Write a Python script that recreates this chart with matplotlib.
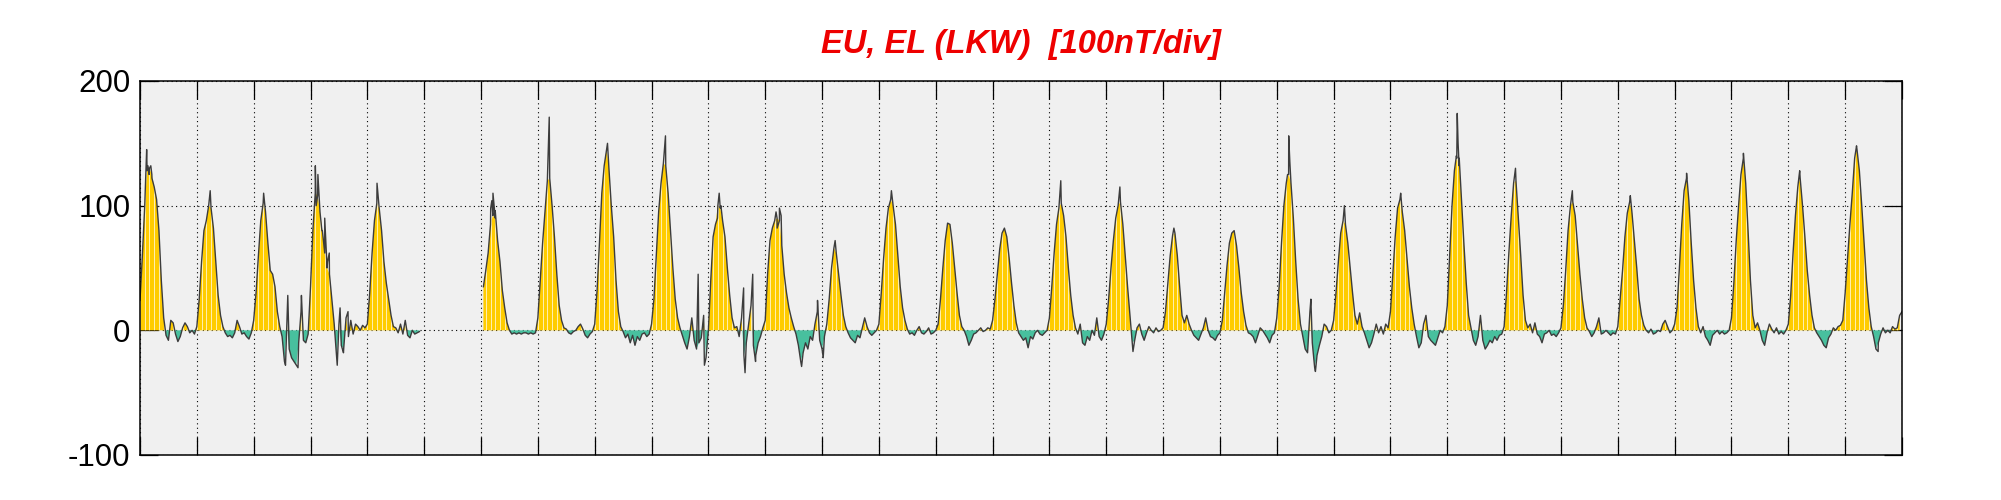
import numpy as np
import matplotlib
matplotlib.use("Agg")
import matplotlib.pyplot as plt
from matplotlib.path import Path

# ---------------- data (hourly values, nT, one list per UT day) ----------------
d01 = [24, 60, 100, 128, 130, 125, 115, 105, 80, 40, 10, -4, -8, 8, 6, -3, -9, -5, 2, 6, 3, -2, 0, -3]
d02 = [3, 25, 55, 80, 88, 100, 98, 82, 55, 28, 12, 3, -2, -5, -4, -6, -2, 8, 3, -3, -2, -5, -7, -2]
d03 = [8, 30, 60, 88, 102, 95, 70, 48, 45, 35, 15, 3, -5, -25, 5, -15, -22, -25, -28, -10, 15, -8, -10, -3]
d04 = [35, 80, 110, 108, 95, 80, 62, 50, 45, 25, 5, -20, 5, -12, -15, 10, -5, 8, -3, 5, 3, 0, 4, 2]
d05 = [5, 30, 62, 88, 102, 98, 80, 55, 38, 25, 12, 3, 2, -2, 5, -3, 8, -4, -6, 0, -3, -2, -1, None]
d06 = [None, None, None, None, None, None, None, None, None, None, None, None,
       None, None, None, None, None, None, None, None, None, None, None, None]
d07 = [None, 35, 48, 62, 85, 92, 90, 72, 55, 32, 18, 6, 0, -3, -2, -3, -2, -3, -2, -2, -3, -2, -3, -2]
d08 = [10, 40, 70, 95, 120, 122, 100, 75, 45, 20, 8, 2, 1, -2, -3, -1, 0, 3, 5, 1, -4, -6, -3, -1]
d09 = [5, 32, 70, 110, 132, 145, 130, 100, 75, 40, 15, 3, -1, -6, -3, -10, -4, -12, -5, -8, -3, -2, -5, -3]
d10 = [5, 25, 60, 95, 118, 134, 132, 110, 80, 50, 25, 10, 2, -4, -10, -15, -5, 10, -8, -15, -10, -6, 12, -22]
d11 = [0, 40, 75, 85, 100, 98, 88, 75, 50, 28, 10, 2, 3, -5, 10, -20, -10, 5, 20, -12, -20, -10, -5, 2]
d12 = [8, 45, 72, 82, 88, 90, 88, 68, 45, 30, 18, 10, 3, -3, -12, -25, -18, -10, -15, -5, -8, 5, 15, -8]
d13 = [-15, -5, 5, 25, 50, 66, 62, 45, 28, 12, 3, -2, -6, -8, -10, -4, -6, 2, 10, 3, -2, -4, -2, 0]
d14 = [5, 30, 58, 82, 98, 105, 100, 85, 60, 35, 18, 8, 1, -3, -2, -4, 0, 3, -2, -3, -1, 2, -3, -2]
d15 = [0, 5, 25, 50, 72, 86, 85, 70, 50, 30, 12, 3, 0, -5, -12, -8, -3, -2, 0, 2, -1, 0, 2, 1]
d16 = [8, 25, 45, 65, 78, 82, 75, 58, 38, 20, 6, -2, -5, -8, -6, -14, -5, -7, -2, 0, -3, -4, -2, 0]
d17 = [10, 35, 62, 85, 98, 102, 92, 75, 50, 28, 12, 2, -3, 5, -10, -12, -5, -8, 0, -4, 10, -5, -8, -3]
d18 = [5, 25, 50, 72, 90, 100, 103, 85, 60, 35, 12, -10, -8, 2, 5, -3, -8, -2, 3, 0, -2, 2, -1, 0]
d19 = [2, 15, 38, 60, 76, 78, 60, 35, 12, 6, 12, 5, 0, -4, -6, -8, -3, 2, 10, 0, -5, -6, -8, -4]
d20 = [-2, 8, 30, 52, 70, 78, 80, 68, 50, 30, 15, 4, -2, -3, -5, -10, -4, 2, 0, -3, -6, -10, -4, -2]
d21 = [10, 35, 70, 100, 118, 125, 118, 90, 55, 25, 5, -5, -15, -18, 15, -10, -30, -20, -12, -5, 5, 3, -2, 0]
d22 = [8, 30, 55, 78, 88, 85, 70, 50, 30, 12, 5, 14, 3, -2, -8, -14, -10, -3, 5, -2, 3, -3, 5, 2]
d23 = [15, 45, 75, 98, 105, 95, 80, 58, 35, 18, 5, -5, -14, -10, 5, 12, -5, -8, -10, -12, -6, 0, -2, 3]
d24 = [20, 60, 100, 128, 138, 132, 105, 70, 38, 12, 2, -8, -12, -5, 12, -8, -15, -12, -8, -10, -5, -8, -4, -3]
d25 = [3, 30, 62, 92, 118, 120, 90, 60, 28, 8, 2, 5, -2, 6, -3, -5, -10, -3, -2, 0, -4, -3, -5, -2]
d26 = [2, 20, 48, 80, 100, 103, 92, 68, 45, 25, 10, 2, -1, -5, -2, 3, 10, -3, -2, 0, -2, -4, -2, -3]
d27 = [3, 25, 48, 75, 94, 103, 94, 72, 50, 25, 12, 4, 0, -2, 1, -3, -2, 0, -1, 5, 8, 3, -2, 0]
d28 = [5, 18, 50, 85, 112, 122, 104, 70, 40, 18, 3, -2, 3, -5, -8, -12, -4, -2, 0, -3, -1, -3, -2, 0]
d29 = [10, 38, 72, 100, 125, 138, 118, 80, 40, 12, 2, 6, 0, -8, -12, -2, 5, 1, -2, 2, -3, -1, -3, 0]
d30 = [5, 28, 62, 92, 115, 122, 100, 75, 48, 28, 12, 2, -2, -5, -8, -12, -14, -6, -3, 2, 0, 3, 4, 8]
d31 = [30, 58, 85, 110, 138, 145, 128, 100, 70, 40, 18, 3, -5, -15, -10, -3, 2, -2, 0, -2, 3, 1, 2, 12]

# short-lived excursions of the trace (time in days, value in nT)
spike_day = [0.117, 0.14, 0.16, 0.19, 0.21, 1.235, 2.175, 2.56, 2.60, 2.78, 2.84,
             3.085, 3.10, 3.13, 3.20, 3.25, 3.30, 3.33, 3.47, 3.52, 3.58, 3.66,
             4.17, 6.17, 6.19, 6.21, 6.25, 7.2, 8.225, 9.245, 9.82, 9.93,
             10.16, 10.19, 10.22, 10.62, 10.645, 10.78, 10.83,
             11.19, 11.21, 11.25, 11.28, 11.64, 11.92, 12.02, 12.23, 13.22, 16.2, 17.24, 17.47,
             18.19, 20.19, 20.21, 20.23, 20.6, 20.68, 21.19, 22.18,
             23.16, 23.175, 23.19, 23.21, 24.2, 25.2, 26.22, 27.21, 28.21, 29.2, 30.2, 30.58, 31.0]
spike_val = [145, 132, 125, 132, 122, 112, 110, -28, 28, -30, 28,
             132, 100, 125, 80, 90, 55, 62, -28, 18, -18, 15,
             118, 98, 104, 110, 96, 171, 150, 156, 45, -28,
             90, 110, 100, 34, -34, 45, -25,
             95, 82, 98, 92, -29, 24, -22, 72, 112, 120, 115, -17,
             82, 125, 156, 135, 25, -33, 100, 110,
             140, 174, 150, 138, 130, 112, 108, 126, 142, 128, 148, -17, 15]

n_days = 31
y_ticks = [-100, 0, 100, 200]
title_text = "EU, EL (LKW)  [100nT/div]"

# ---------------- assemble ----------------
days = [d01, d02, d03, d04, d05, d06, d07, d08, d09, d10, d11, d12, d13, d14, d15, d16,
        d17, d18, d19, d20, d21, d22, d23, d24, d25, d26, d27, d28, d29, d30, d31]
vals = np.array([np.nan if v is None else v for d in days for v in d], dtype=float)
t = np.arange(len(vals)) / 24.0

lt = np.concatenate([t, np.array(spike_day)])
lv = np.concatenate([vals, np.array(spike_val, dtype=float)])
order = np.argsort(lt, kind="stable")
lt, lv = lt[order], lv[order]

# ---------------- figure ----------------
W, H = 2001, 500
fig = plt.figure(figsize=(W / 100, H / 100), dpi=100)
ax = fig.add_axes([140 / W, 45 / H, 1762 / W, 374 / H])
ax.set_facecolor("#F0F0F0")

yel = ax.fill_between(t, vals, 0, where=vals >= 0, interpolate=True,
                      color="#FFCC00", linewidth=0, zorder=2)
ax.fill_between(t, vals, 0, where=vals <= 0, interpolate=True,
                color="#48C09E", linewidth=0, zorder=2)

# thin light seams in the yellow fill
seam_x = np.arange(0, n_days * 24 + 1, 2) / 24.0
seams = ax.vlines(seam_x, -100, 200, colors="white", linewidth=0.7, alpha=0.7, zorder=3)
paths = yel.get_paths()
if paths:
    seams.set_clip_path(Path.make_compound_path(*paths), ax.transData)

ax.plot(lt, lv, color="#3C3C3C", linewidth=1.0, zorder=4)

ax.set_xlim(0, n_days)
ax.set_ylim(-100, 200)
ax.set_xticks(np.arange(0, n_days + 1))
ax.set_xticklabels([])
ax.set_yticks(y_ticks)
ax.set_yticklabels([str(v) for v in y_ticks], fontsize=22.5, family="Liberation Sans")
ax.tick_params(axis="both", direction="in", length=13, width=0.9, top=True, right=True,
               colors="black", pad=7)
ax.set_axisbelow(True)
ax.grid(True, color="black", linestyle=(0, (1, 3)), linewidth=0.8)
for s in ax.spines.values():
    s.set_linewidth(1.1)
    s.set_zorder(6)

fig.text(1021 / W, 1 - 53 / H, title_text, color="#EE0000", fontsize=23.5,
         fontweight="bold", fontstyle="italic", family="Liberation Sans",
         ha="center", va="baseline")

fig.savefig("out.png", dpi=100)
